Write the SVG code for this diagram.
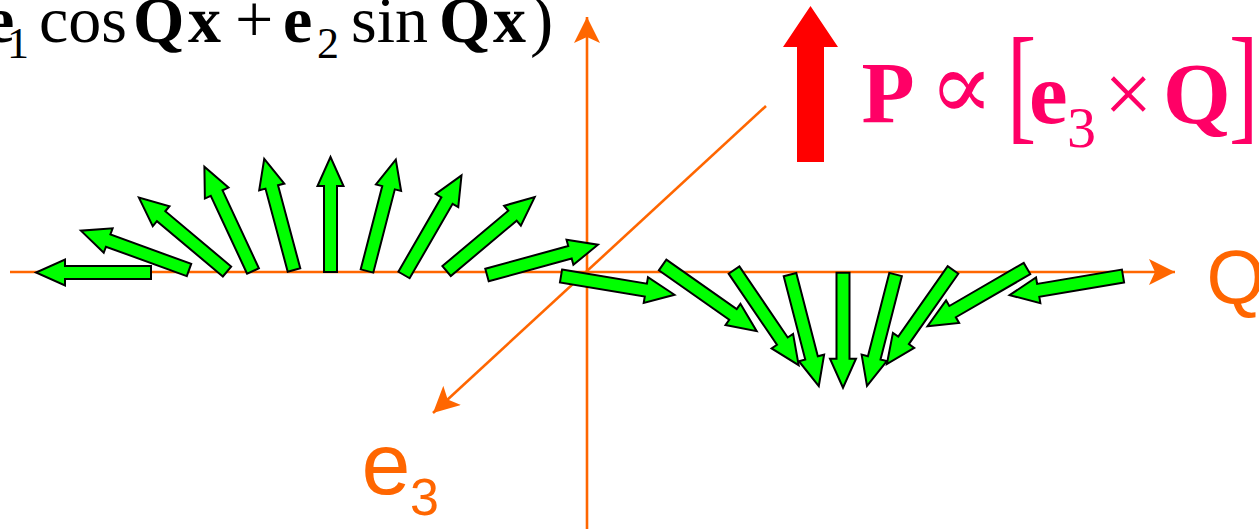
<svg xmlns="http://www.w3.org/2000/svg" width="1259" height="529" viewBox="0 0 1259 529">
<style>
.ax{stroke:#FF6600;stroke-width:2.6;fill:none}
.spin{fill:#00FF00;stroke:#000;stroke-width:2;stroke-linejoin:miter}
.tm{font-family:"Liberation Serif","Times New Roman",serif;fill:#000}
.b{font-weight:bold}
.pk{font-family:"Liberation Serif","Times New Roman",serif;fill:#FF0066}
.lab{font-family:"Liberation Sans",Arial,sans-serif;fill:#FF6600}
</style>
<defs>
<marker id="ah" viewBox="0 0 26 26" refX="26" refY="13" markerWidth="26" markerHeight="26" markerUnits="userSpaceOnUse" orient="auto">
<path d="M0,0 L26,13 L0,26 L6,13 Z" fill="#FF6600"/>
</marker>
<path id="sp" class="spin" d="M0,-6.5 H86 V-13 L115,0 L86,13 V6.5 H0 Z"/>
</defs>
<rect width="1259" height="529" fill="#fff"/>
<g id="connectors">
<line class="ax" x1="10" y1="272" x2="1175" y2="272" marker-end="url(#ah)"/>
<line class="ax" x1="587" y1="529" x2="587" y2="17" marker-end="url(#ah)"/>
<line class="ax" x1="766" y1="106" x2="433" y2="413" marker-end="url(#ah)"/>
</g>
<g id="spins">
<use id="s1" href="#sp" transform="translate(151,272.5) rotate(180)"/>
<use id="s2" href="#sp" transform="translate(189,270) rotate(-160)"/>
<use id="s3" href="#sp" transform="translate(227,271.5) rotate(-140)"/>
<use id="s4" href="#sp" transform="translate(253,271) rotate(-115)"/>
<use id="s5" href="#sp" transform="translate(294,270) rotate(-105)"/>
<use id="s6" href="#sp" transform="translate(330.5,272) rotate(-90)"/>
<use id="s7" href="#sp" transform="translate(367,271) rotate(-75.5)"/>
<use id="s8" href="#sp" transform="translate(404,275) rotate(-60)"/>
<use id="s9" href="#sp" transform="translate(446.6,271) rotate(-40)"/>
<use id="s10" href="#sp" transform="translate(487,275) rotate(-15.3)"/>
<use id="s11" href="#sp" transform="translate(561,276) rotate(9.4)"/>
<use id="s12" href="#sp" transform="translate(662.6,265) rotate(35.1)"/>
<use id="s13" href="#sp" transform="translate(734,270) rotate(55.8)"/>
<use id="s14" href="#sp" transform="translate(790,274.7) rotate(75.5)"/>
<use id="s15" href="#sp" transform="translate(843,272.7) rotate(90)"/>
<use id="s16" href="#sp" transform="translate(895.6,274.5) rotate(104.4)"/>
<use id="s17" href="#sp" transform="translate(953,270) rotate(125.1)"/>
<use id="s18" href="#sp" transform="translate(1027,268.5) rotate(149.9)"/>
<use id="s19" href="#sp" transform="translate(1123,276) rotate(170.4)"/>
</g>
<g id="red-arrow">
<path d="M797,162 V47 H783 L810.5,6 L838,47 H824 V162 Z" fill="#FF0000"/>
</g>
<g id="formula-top">
<text class="tm b" x="-15" y="42" font-size="66">e</text>
<text class="tm" x="7" y="58" font-size="44">1</text>
<text class="tm" x="39" y="42" font-size="66">cos</text>
<text class="tm b" x="133" y="42" font-size="66">Q</text>
<text class="tm b" x="188" y="42" font-size="66">x</text>
<text class="tm" x="235" y="42" font-size="68">+</text>
<text class="tm b" x="283" y="42" font-size="66">e</text>
<text class="tm" x="317" y="58" font-size="44">2</text>
<text class="tm" x="351" y="42" font-size="66">sin</text>
<text class="tm b" x="439" y="42" font-size="66">Q</text>
<text class="tm b" x="493" y="42" font-size="66">x</text>
<text class="tm" x="530" y="43" font-size="70">)</text>
</g>
<g id="formula-P">
<text class="pk b" x="861.5" y="122" font-size="87">P</text>
<text x="929" y="119" font-size="96" fill="#FF0066" font-family="'DejaVu Serif','Liberation Serif',serif">∝</text>
<text class="pk" transform="translate(1007,127) scale(1,1.46)" font-size="88">[</text>
<text class="pk b" x="1029" y="123" font-size="87">e</text>
<text class="pk" x="1067" y="147" font-size="58">3</text>
<text class="pk" x="1104" y="123" font-size="86">×</text>
<text class="pk b" x="1163" y="123" font-size="87">Q</text>
<text class="pk" transform="translate(1229,127) scale(1,1.46)" font-size="88">]</text>
</g>
<g id="label-Q">
<text class="lab" x="1206.6" y="303" font-size="76">Q</text>
</g>
<g id="label-e3">
<text class="lab" x="361.5" y="494" font-size="88">e</text>
<text class="lab" x="410" y="515" font-size="52">3</text>
</g>
</svg>
